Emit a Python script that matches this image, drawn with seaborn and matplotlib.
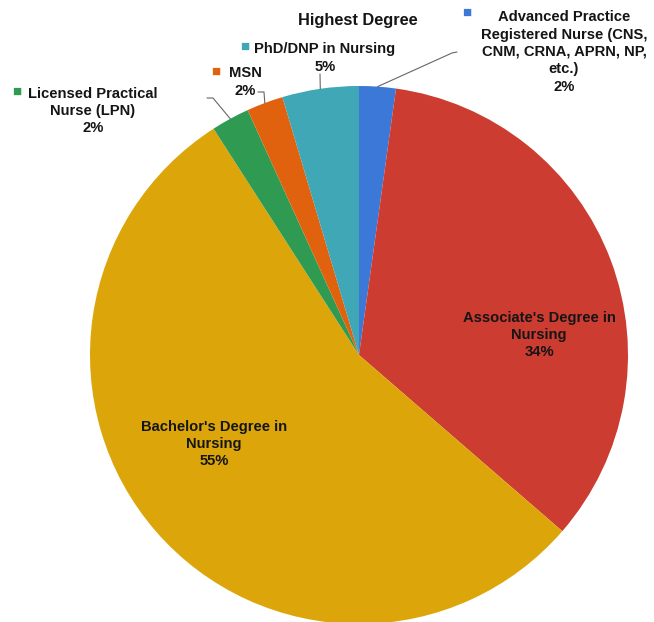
import matplotlib
matplotlib.use("Agg")
import matplotlib.pyplot as plt
import seaborn as sns
import numpy as np

sns.set_theme(style="white")
plt.rcParams['font.family'] = ['Liberation Sans', 'DejaVu Sans']

# ---- data ----
categories = [
    "Advanced Practice\nRegistered Nurse (CNS,\nCNM, CRNA, APRN, NP,\netc.)",
    "Associate's Degree in\nNursing",
    "Bachelor's Degree in\nNursing",
    "Licensed Practical\nNurse (LPN)",
    "MSN",
    "PhD/DNP in Nursing",
]
values = [2.2, 34.2, 54.6, 2.3, 2.2, 4.6]
pct_labels = ["2%", "34%", "55%", "2%", "2%", "5%"]
colors = ["#3B78D8", "#CC3C30", "#DCA60A", "#2F9A52", "#E0620E", "#3FA7B5"]
title = "Highest Degree"

W, H = 654, 622
fig = plt.figure(figsize=(W / 100, H / 100), dpi=100)
cx, cy, r = 359, 355, 269
ax = fig.add_axes([(cx - r) / W, 1 - (cy + r) / H, 2 * r / W, 2 * r / H])
palette = sns.color_palette(colors)
wedges, _ = ax.pie(values, colors=palette, startangle=90, counterclock=False,
                   radius=1, wedgeprops=dict(linewidth=0))
ax.set_xlim(-1, 1)
ax.set_ylim(-1, 1)
ax.set_aspect('equal')
ax.axis('off')

fs = 10.6
ls = 1.3
tc = "#151515"

def fx(px):
    return px / W

def fy(py):
    return 1 - py / H

fig.text(fx(358), fy(21), title, ha='center', va='center', fontsize=11.8,
         fontweight='bold', color=tc)

# Inside labels
inside_pos = {1: (539, 335), 2: (214, 444)}
for i, (px, py) in inside_pos.items():
    fig.text(fx(px), fy(py), categories[i] + "\n" + pct_labels[i], ha='center',
             va='center', fontsize=fs, fontweight='bold', color=tc, linespacing=ls)

# Outside labels: (text center x, y) and marker position
outside = {
    0: dict(pos=(564, 52), mk=(467, 13)),
    3: dict(pos=(93, 111), mk=(17, 92)),
    4: dict(pos=(245, 82), mk=(216, 72)),
    5: dict(pos=(325, 58), mk=(245, 47)),
}
for i, d in outside.items():
    txt = categories[i] + "\n" + pct_labels[i]
    fig.text(fx(d['pos'][0]), fy(d['pos'][1]), txt, ha='center', va='center',
             fontsize=fs, fontweight='bold', color=tc, linespacing=ls)
    fig.text(fx(d['mk'][0]), fy(d['mk'][1]), "■", ha='center', va='center',
             fontsize=11, color=colors[i])

# Leader lines
def edge_point(w, frac=0.5):
    ang = np.deg2rad(w.theta1 + (w.theta2 - w.theta1) * frac)
    return np.cos(ang), np.sin(ang)

leaders = {
    0: [(452, 53), (457, 52)],
    5: [(320, 74)],
    4: [(264, 92), (258, 92)],
    3: [(213, 98), (207, 98)],
}
for i, pts in leaders.items():
    x0, y0 = edge_point(wedges[i])
    disp = ax.transData.transform((x0, y0))
    xs = [disp[0] / W] + [fx(p[0]) for p in pts]
    ys = [disp[1] / H] + [fy(p[1]) for p in pts]
    fig.add_artist(plt.Line2D(xs, ys, transform=fig.transFigure, color="#666666",
                              linewidth=0.8))

fig.savefig("out.png", dpi=100, facecolor='white')
